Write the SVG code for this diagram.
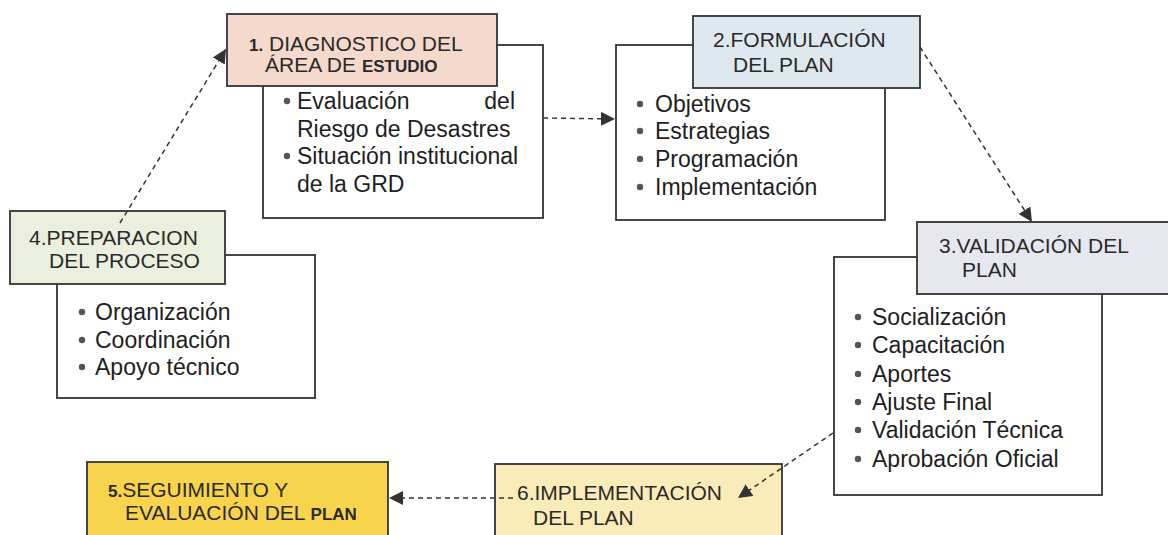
<svg xmlns="http://www.w3.org/2000/svg" width="1168" height="535" viewBox="0 0 1168 535">
<style>
.body{fill:#ffffff;stroke:#333;stroke-width:1.8}
.hdr{stroke:#333;stroke-width:1.8}
.ht{font-family:"Liberation Sans",Arial,sans-serif;font-size:21px;fill:#2a2a2a}
.bt{font-family:"Liberation Sans",Arial,sans-serif;font-size:23px;fill:#1e1e1e}
.bold{font-weight:bold;font-size:17px}
.bul{fill:#555}
.con{fill:none;stroke:#333;stroke-width:1.5;stroke-dasharray:5 4;marker-end:url(#ah)}
</style>
<defs>
<marker id="ah" markerUnits="userSpaceOnUse" markerWidth="16" markerHeight="14" refX="14" refY="7" orient="auto">
<path d="M0,0 L14,7 L0,14 Z" fill="#333"/>
</marker>
</defs>
<rect width="1168" height="535" fill="#ffffff"/>

<g id="node1">
<rect class="body" x="263" y="45" width="280" height="173"/>
<rect class="hdr" x="227" y="14" width="270" height="72" fill="#f5d9cc"/>
<text class="ht" x="249" y="51"><tspan class="bold">1.</tspan> DIAGNOSTICO DEL</text>
<text class="ht" x="265" y="72">ÁREA DE <tspan class="bold">ESTUDIO</tspan></text>
<circle class="bul" cx="287" cy="101" r="3.2"/>
<text class="bt" x="297" y="109">Evaluación</text>
<text class="bt" x="515" y="109" text-anchor="end">del</text>
<text class="bt" x="297" y="137">Riesgo de Desastres</text>
<circle class="bul" cx="287" cy="156" r="3.2"/>
<text class="bt" x="297" y="164">Situación institucional</text>
<text class="bt" x="297" y="192">de la GRD</text>
</g>

<g id="node2">
<rect class="body" x="616" y="45" width="269" height="175"/>
<rect class="hdr" x="693" y="16" width="227" height="72" fill="#dde9ee"/>
<text class="ht" x="713" y="47">2.FORMULACIÓN</text>
<text class="ht" x="733" y="72">DEL PLAN</text>
<circle class="bul" cx="640" cy="104" r="3.2"/>
<text class="bt" x="655" y="112">Objetivos</text>
<circle class="bul" cx="640" cy="131" r="3.2"/>
<text class="bt" x="655" y="139">Estrategias</text>
<circle class="bul" cx="640" cy="159" r="3.2"/>
<text class="bt" x="655" y="167">Programación</text>
<circle class="bul" cx="640" cy="187" r="3.2"/>
<text class="bt" x="655" y="195">Implementación</text>
</g>

<g id="node3">
<rect class="body" x="834" y="257" width="268" height="238"/>
<rect class="hdr" x="917" y="222" width="256" height="72" fill="#e7e7ef"/>
<text class="ht" x="939" y="253">3.VALIDACIÓN DEL</text>
<text class="ht" x="962" y="277">PLAN</text>
<circle class="bul" cx="858" cy="317" r="3.2"/>
<text class="bt" x="872" y="325">Socialización</text>
<circle class="bul" cx="858" cy="345" r="3.2"/>
<text class="bt" x="872" y="353">Capacitación</text>
<circle class="bul" cx="858" cy="374" r="3.2"/>
<text class="bt" x="872" y="382">Aportes</text>
<circle class="bul" cx="858" cy="402" r="3.2"/>
<text class="bt" x="872" y="410">Ajuste Final</text>
<circle class="bul" cx="858" cy="430" r="3.2"/>
<text class="bt" x="872" y="438">Validación Técnica</text>
<circle class="bul" cx="858" cy="459" r="3.2"/>
<text class="bt" x="872" y="467">Aprobación Oficial</text>
</g>

<g id="node4">
<rect class="body" x="57" y="255" width="258" height="143"/>
<rect class="hdr" x="10" y="211" width="215" height="73" fill="#ebf0de"/>
<text class="ht" x="29" y="245">4.PREPARACION</text>
<text class="ht" x="49" y="268">DEL PROCESO</text>
<circle class="bul" cx="82" cy="312" r="3.2"/>
<text class="bt" x="95" y="320">Organización</text>
<circle class="bul" cx="82" cy="340" r="3.2"/>
<text class="bt" x="95" y="348">Coordinación</text>
<circle class="bul" cx="82" cy="367" r="3.2"/>
<text class="bt" x="95" y="375">Apoyo técnico</text>
</g>

<g id="node5">
<rect class="hdr" x="87" y="462" width="301" height="80" fill="#f8d44c"/>
<text class="ht" x="108" y="497"><tspan class="bold">5.</tspan>SEGUIMIENTO Y</text>
<text class="ht" x="125" y="520">EVALUACIÓN DEL <tspan class="bold">PLAN</tspan></text>
</g>

<g id="node6">
<rect class="hdr" x="495" y="464" width="287" height="80" fill="#faecb8"/>
<text class="ht" x="517" y="500">6.IMPLEMENTACIÓN</text>
<text class="ht" x="533" y="525">DEL PLAN</text>
</g>

<g id="connectors">
<line class="con" x1="120" y1="223" x2="226" y2="49"/>
<line class="con" x1="543" y1="118" x2="615" y2="119"/>
<line class="con" x1="920" y1="47" x2="1032" y2="222"/>
<line class="con" x1="833" y1="433" x2="738" y2="498"/>
<line class="con" x1="513" y1="498" x2="389" y2="498"/>
</g>
</svg>
